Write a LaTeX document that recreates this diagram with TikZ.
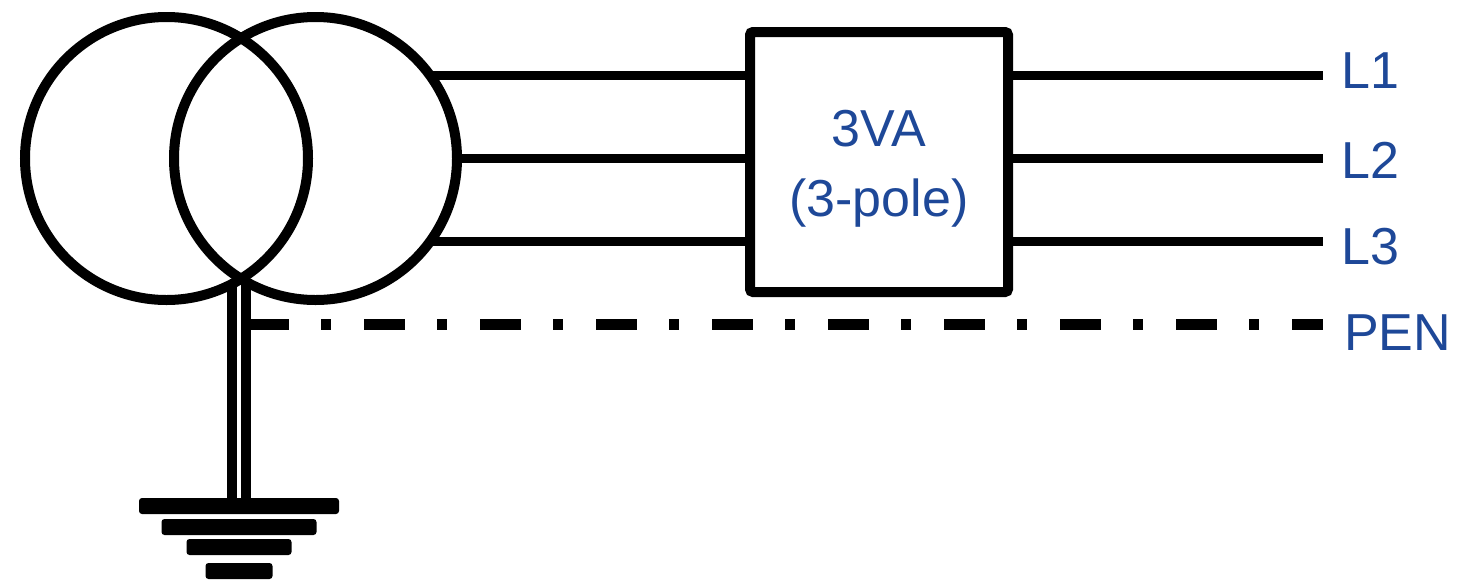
\documentclass[tikz,border=0pt]{standalone}
\usepackage{fontspec}
\setmainfont{Liberation Sans}
\usetikzlibrary{positioning, calc, backgrounds}
\definecolor{labelblue}{RGB}{30,72,152}
\tikzset{
    trafo/.style={
        circle,
        draw=black,
        line width=10pt,
        minimum size=283pt,
        inner sep=0pt,
        outer sep=0pt
    },
    breaker/.style={
        rectangle,
        draw=black,
        line width=10pt,
        rounded corners=3pt,
        minimum width=258pt,
        minimum height=260pt,
        inner sep=0pt,
        outer sep=0pt,
        align=center,
        text=labelblue,
        font=\fontsize{52}{70}\selectfont
    },
    phaseline/.style={
        draw=black,
        line width=9.5pt
    },
    penline/.style={
        draw=black,
        line width=10.5pt,
        dash pattern=on 41pt off 32pt on 10pt off 33pt
    },
    earthwire/.style={
        draw=black,
        line width=9.5pt,
        double=white,
        double distance=4.4pt
    },
    earthbar/.style={
        rectangle,
        fill=black,
        rounded corners=3pt,
        minimum height=16pt,
        inner sep=0pt,
        outer sep=0pt
    },
    termlabel/.style={
        text=labelblue,
        font=\fontsize{52}{62}\selectfont,
        inner sep=0pt,
        anchor=base west
    }
}
\begin{document}
\begin{tikzpicture}[x=1pt, y=-1pt]
\useasboundingbox (0,0) rectangle (1457,582);

% Transformer windings
\node[trafo] (trafoL) at (166.5,158.5) {};
\node[trafo] (trafoR) at (315.5,158.5) {};

% Circuit breaker
\node[breaker] (brk) at (879,162) {\rule{0pt}{50pt}3VA\\(3-pole)};

% Terminal labels
\coordinate (lineend) at (1323,324.5);
\node[termlabel] (L1) at (1341,88) {L1};
\node[termlabel] (L2) at (1341,178) {L2};
\node[termlabel] (L3) at (1341,264) {L3};
\node[termlabel] (PEN) at (1344,350) {PEN};

% Phase conductors
\foreach \a in {36.5, -0.7, -36.6} {
    \draw[phaseline] (trafoR.\a) -- (trafoR.\a -| brk.west);
    \draw[phaseline] (trafoR.\a -| brk.east) -- (trafoR.\a -| lineend);
}

% Earthing at the star point
\coordinate (star) at (239,281);
\foreach \w/\y [count=\i] in {200pt/506, 155pt/527, 105pt/547, 67pt/571}
    \node[earthbar, minimum width=\w] (gnd\i) at (239,\y) {};
\begin{pgfonlayer}{background}
\draw[earthwire] (star) -- (star |- gnd1.north);
\end{pgfonlayer}

% PEN conductor
\draw[penline] ($(star |- lineend)+(9,0)$) -- (lineend);

\end{tikzpicture}
\end{document}
